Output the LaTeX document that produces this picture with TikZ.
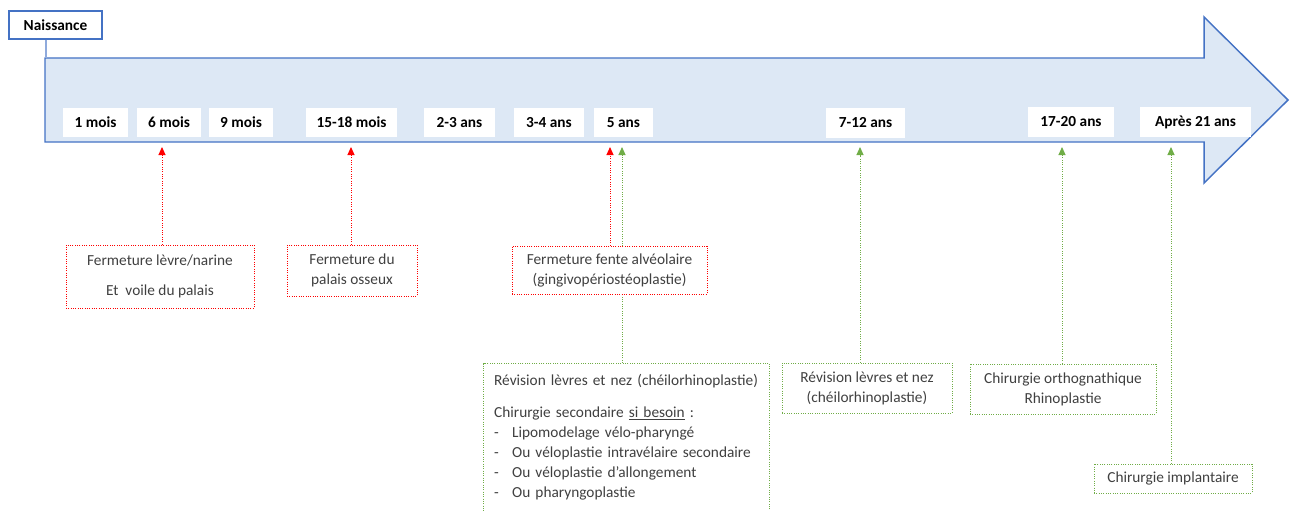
\documentclass[tikz,border=0pt]{standalone}
\usepackage{fontspec}
\setmainfont{Carlito}
\usetikzlibrary{arrows.meta, calc, positioning, backgrounds}
\definecolor{axisfill}{RGB}{221,232,245}
\definecolor{axisdraw}{RGB}{68,114,196}
\definecolor{axisline}{RGB}{143,170,220}
\definecolor{opred}{RGB}{255,0,0}
\definecolor{opgreen}{RGB}{112,173,71}
\definecolor{optext}{RGB}{64,64,64}
\newcommand{\boxfont}{\fontsize{11.5}{15}\selectfont}
\newcommand{\dashitem}{\makebox[13.5pt][l]{-}}
\tikzset
{%
boxsize/.style 2 args={minimum width=#1*0.75pt, minimum height=#2*0.75pt},
tick/.style={fill=white, inner sep=0pt, font=\boxfont\bfseries},
nais/.style={draw=axisdraw, line width=1.1pt, fill=white, inner sep=0pt, font=\boxfont\bfseries},
redbox/.style={draw=opred, densely dotted, line width=0.75pt, fill=white, text=optext, align=center, inner sep=0pt, font=\boxfont},
greenbox/.style={redbox, draw=opgreen},
redarrow/.style={opred, densely dotted, line width=0.75pt, -{Triangle[width=5.25pt,length=6pt]}},
greenarrow/.style={redarrow, opgreen}
}
\begin{document}
\begin{tikzpicture}[x=0.75pt, y=-0.75pt]
		\useasboundingbox (0,0) rectangle (1291,510);
		\clip (0,0) rectangle (1291,510);
		
		%Axis
		\draw[axisdraw, fill=axisfill, line width=1.1pt] (45,58) -- (1204,58) -- (1204,17) -- (1288,100)
		-- (1204,183) -- (1204,142) -- (45,142) -- cycle;
		\node[nais, boxsize={93}{28}] (nais) at (55.5,25) {Naissance};
		\coordinate (ax) at (46,58);
		\path[axisline, line width=1.1pt] (nais.south -| ax) edge (ax);
		
		%Ages
		\node[tick, boxsize={65}{29}] (m1) at (95.5,122.5) {1 mois};
		\node[tick, boxsize={64}{29}] (m6) at (169,122.5) {6 mois};
		\node[tick, boxsize={64}{29}] (m9) at (241,122.5) {9 mois};
		\node[tick, boxsize={91}{29}] (m15) at (351.5,122.5) {15-18 mois};
		\node[tick, boxsize={71}{29}] (a2) at (459.5,122.5) {2-3 ans};
		\node[tick, boxsize={70}{29}] (a3) at (549,122.5) {3-4 ans};
		\node[tick, boxsize={59}{29}] (a5) at (623.5,122.5) {5 ans};
		\node[tick, boxsize={79}{30}] (a7) at (865.5,123) {7-12 ans};
		\node[tick, boxsize={86}{30}] (a17) at (1071,122) {17-20 ans};
		\node[tick, boxsize={111}{30}] (a21) at (1195.5,122) {Après 21 ans};
		
		%Arrow tips
		\coordinate (t6) at (162,147);
		\coordinate (t15) at (351,147);
		\coordinate (t5r) at (610,147);
		\coordinate (t5g) at (622,147);
		\coordinate (t7) at (860,147);
		\coordinate (t17) at (1062,147);
		\coordinate (t21) at (1171,147);
		
		%Red boxes
		\node[redbox, boxsize={188}{63}] (flev) at (160,276.5) {Fermeture lèvre/narine\\[7.5pt]Et\ \ voile du palais};
		\node[redbox, boxsize={130}{51}] (fpal) at (352,270.5) {Fermeture du\\palais osseux};
		\node[redbox, boxsize={195}{48}] (fente) at (609.5,270) {Fermeture fente alvéolaire\\(gingivopériostéoplastie)};
		
		%Green boxes
		\node[greenbox, anchor=north west, align=left, text width=198.5pt, inner xsep=8pt, inner ysep=8pt] (rev5) at (483,363)
		{Révision lèvres et nez (chéilorhinoplastie)\\[9pt]
		Chirurgie secondaire \underline{si besoin} :\\
		\dashitem Lipomodelage vélo-pharyngé\\
		\dashitem Ou véloplastie intravélaire secondaire\\
		\dashitem Ou véloplastie d’allongement\\
		\dashitem Ou pharyngoplastie\par\vspace*{40pt}};
		\node[greenbox, boxsize={170}{50}] (rev12) at (867,388) {Révision lèvres et nez\\(chéilorhinoplastie)};
		\node[greenbox, boxsize={186}{50}] (ortho) at (1063,389) {Chirurgie orthognathique\\Rhinoplastie};
		\node[greenbox, boxsize={158}{29}] (impl) at (1173,478.5) {Chirurgie implantaire};
		
		\begin{scope}[on background layer]
			\path[redarrow] (flev.north -| t6) edge (t6)
			(fpal.north -| t15) edge (t15)
			(fente.north -| t5r) edge (t5r);
			\path[greenarrow] (rev5.north -| t5g) edge (t5g)
			(rev12.north -| t7) edge (t7)
			(ortho.north -| t17) edge (t17)
			(impl.north -| t21) edge (t21);
		\end{scope}
	\end{tikzpicture}
\end{document}
